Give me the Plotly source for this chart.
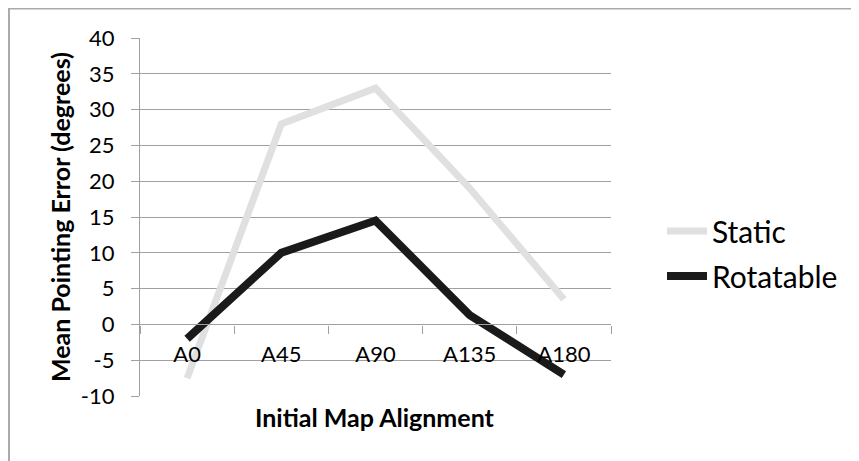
import plotly.graph_objects as go

categories = ["A0", "A45", "A90", "A135", "A180"]
static_vals = [-7.5, 28.0, 33.0, 19.0, 3.5]
rotatable_vals = [-2.0, 10.0, 14.5, 1.3, -7.0]
y_ticks = [-10, -5, 0, 5, 10, 15, 20, 25, 30, 35, 40]
y_tick_text = [str(v) for v in y_ticks]

FONT = "Lato"
OFF = 8  # page body margin
W, H = 859 - OFF, 461 - OFF
# plot area in screen pixels: x 140..611, y 38..396
L, T = 140 - OFF, 38 - OFF
R = W - (611 - OFF)
B = H - (396 - OFF)
pw, ph = W - L - R, H - T - B

def px_x(x):  # screen px -> paper
    return (x - OFF - L) / pw

def px_y(y):
    return (H - B - (y - OFF)) / ph

fig = go.Figure()
fig.add_trace(go.Scatter(x=categories, y=static_vals, name="Static", mode="lines",
                         legendgroup="s",
                         line=dict(color="#e0e0e0", width=7)))
fig.add_trace(go.Scatter(x=categories, y=rotatable_vals, name="Rotatable", mode="lines",
                         legendgroup="r",
                         line=dict(color="#1a1a1a", width=8)))

fig.update_layout(
    width=W, height=H,
    margin=dict(l=L, r=R, t=T, b=B, autoexpand=False),
    paper_bgcolor="white", plot_bgcolor="white",
    font=dict(family=FONT, size=22, color="#000000"),
    showlegend=True,
    legend=dict(x=px_x(662), y=px_y(205), xanchor="left", yanchor="top",
                font=dict(size=30, family=FONT), itemwidth=40,
                tracegroupgap=3, bgcolor="rgba(0,0,0,0)"),
    xaxis=dict(
        type="category", range=[-0.5, 4.5],
        anchor="free", position=0.2, automargin=False,
        showline=True, linecolor="#a0a0a0", linewidth=1.2,
        ticks="outside", ticklen=8, tickcolor="#a0a0a0", tickson="boundaries",
        showgrid=False, zeroline=False,
        tickfont=dict(size=22, family=FONT),
        ticklabelstandoff=10,
    ),
    yaxis=dict(
        range=[-10, 40], tickvals=y_ticks, ticktext=y_tick_text, automargin=False,
        showline=True, linecolor="#a0a0a0", linewidth=1.2,
        ticks="outside", ticklen=8, tickcolor="#a0a0a0",
        showgrid=True, gridcolor="#a0a0a0", gridwidth=1.2,
        zeroline=False,
        tickfont=dict(size=22, family=FONT),
        ticklabelstandoff=12,
    ),
    shapes=[
        dict(type="line", xref="paper", yref="paper",
             x0=px_x(8), x1=px_x(860), y0=px_y(8.5), y1=px_y(8.5),
             line=dict(color="#aaaaaa", width=2), layer="below"),
        dict(type="line", xref="paper", yref="paper",
             x0=px_x(9), x1=px_x(9), y0=px_y(8), y1=px_y(462),
             line=dict(color="#aaaaaa", width=2), layer="below"),
    ],
    annotations=[
        dict(text="<b>Initial Map Alignment</b>", xref="paper", yref="paper",
             x=px_x(375), y=px_y(417), xanchor="center", yanchor="middle",
             showarrow=False, font=dict(size=25, family=FONT)),
        dict(text="<b>Mean Pointing Error (degrees)</b>", xref="paper", yref="paper",
             x=px_x(60), y=px_y(217), xanchor="center", yanchor="middle", textangle=-90,
             showarrow=False, font=dict(size=25, family=FONT)),
    ],
)

fig.write_html("out.html")
